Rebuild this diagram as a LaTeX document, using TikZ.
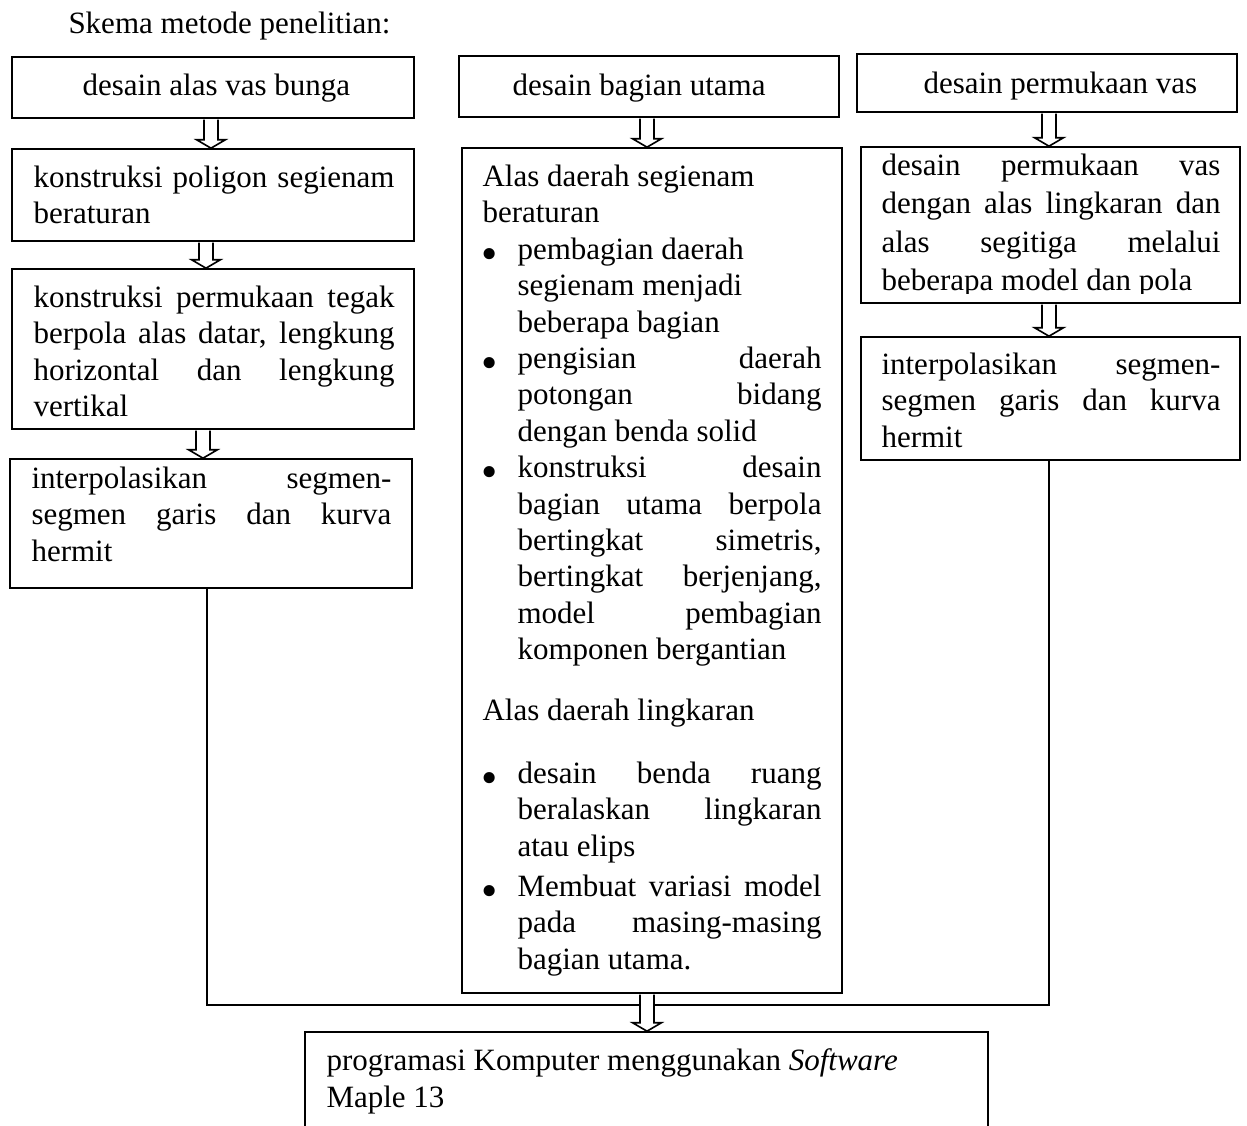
\documentclass[tikz,border=0pt]{standalone}
\usepackage{fontspec}
\setmainfont{Liberation Serif}
\usetikzlibrary{fit,calc}
\newcommand\J[2]{\makebox[#1][s]{#2}}
\newcommand\bul{\makebox[14pt][l]{\hspace{-0.6pt}\smash{\raisebox{-4pt}{\scalebox{1.5}{\textbullet}}}}}
\newcommand\ind{\makebox[14pt]{}}
% hollow block arrow from the bottom of node #1 to the top of node #2 at x = #3 (px)
\newcommand\harrow[3]{%
  \filldraw[arrst] let \p1=(#1.south), \p2=(#2.north) in
    ({#3*0.4pt-2.8pt},{\y1-0.3pt}) -- ({#3*0.4pt-2.8pt},{\y2+3.4pt})
    -- ({#3*0.4pt-5.8pt},{\y2+3.4pt}) -- ({#3*0.4pt},\y2)
    -- ({#3*0.4pt+5.8pt},{\y2+3.4pt}) -- ({#3*0.4pt+2.8pt},{\y2+3.4pt})
    -- ({#3*0.4pt+2.8pt},{\y1-0.3pt});}
\begin{document}
\begin{tikzpicture}[x=0.4pt,y=-0.4pt,
  every node/.style={font=\fontsize{12.4}{14.56}\selectfont},
  boxst/.style={draw, line width=0.65pt, inner sep=0pt},
  txtst/.style={anchor=north west, inner sep=0pt, align=left,
    execute at begin node={\spaceskip=0pt\xspaceskip=0pt}},
  lblst/.style={anchor=base west, inner sep=0pt},
  arrst/.style={draw=black, fill=white, line width=0.65pt, line join=miter},
  conn/.style={draw, line width=0.65pt}]
\path[fill=white] (0,0) rectangle (1247,1126);
\useasboundingbox (0,0) rectangle (1247,1126);

% title
\node[lblst] (title) at (68,34) {Skema metode penelitian:};

% boxes
\node[boxst, fit={(12,57) (414,118)}] (a1) {};
\node[boxst, fit={(12,149) (414,241)}] (a2) {};
\node[boxst, fit={(12,269) (414,429)}] (a3) {};
\node[boxst, fit={(10,459) (412,588)}] (a4) {};
\node[boxst, fit={(459,56) (839,117)}] (m1) {};
\node[boxst, fit={(462,148) (842,993)}] (m2) {};
\node[boxst, fit={(857,54) (1237,112)}] (r1) {};
\node[boxst, fit={(861,147) (1240,303)}] (r2) {};
\node[boxst, fit={(861,337) (1240,460)}] (r3) {};
\node[boxst, fit={(305,1032) (988,1140)}] (bt) {};

% texts
\node[lblst] (a1t) at (82,95) {desain alas vas bunga};
\node[lblst] (m1t) at (512,95) {desain bagian utama};
\node[lblst] (r1t) at (923,93) {desain permukaan vas};

\node[txtst, text width=145pt] (a2t) at (33,161.5)
  {\strut\J{144.4pt}{konstruksi poligon segienam}\\beraturan};
\node[txtst, text width=145pt] (a3t) at (33,281.5)
  {\strut\J{144.4pt}{konstruksi permukaan tegak}\\
   \J{144.4pt}{berpola alas datar, lengkung}\\
   \J{144.4pt}{horizontal dan lengkung}\\vertikal};
\node[txtst, text width=145pt] (a4t) at (31,462.5)
  {\strut\J{144pt}{interpolasikan segmen-}\\
   \J{144pt}{segmen garis dan kurva}\\hermit};

\node[txtst, text width=136.5pt] (m2t) at (482,160.5)
  {\strut Alas daerah segienam\\
   beraturan\\
   \bul pembagian daerah\\
   \ind segienam menjadi\\
   \ind beberapa bagian\\
   \bul\J{121.6pt}{pengisian daerah}\\
   \ind\J{121.6pt}{potongan bidang}\\
   \ind dengan benda solid\\
   \bul\J{121.6pt}{konstruksi desain}\\
   \ind\J{121.6pt}{bagian utama berpola}\\
   \ind\J{121.6pt}{bertingkat simetris,}\\
   \ind\J{121.6pt}{bertingkat berjenjang,}\\
   \ind\J{121.6pt}{model pembagian}\\
   \ind komponen bergantian\\[9.8pt]
   Alas daerah lingkaran\\[10.6pt]
   \bul\J{121.6pt}{desain benda ruang}\\
   \ind\J{121.6pt}{beralaskan lingkaran}\\
   \ind atau elips\\[1.5pt]
   \bul\J{121.6pt}{Membuat variasi model}\\
   \ind\J{121.6pt}{pada masing-masing}\\
   \ind bagian utama.};

\begin{scope}
  \clip (850,140) rectangle (1245,293.5);
  \node[txtst, text width=136.5pt] (r2t) at (881,149.5)
    {\strut\J{135.6pt}{desain permukaan vas}\\[0.8pt]
     \J{135.6pt}{dengan alas lingkaran dan}\\[0.8pt]
     \J{135.6pt}{alas segitiga melalui}\\[0.8pt]
     beberapa model dan pola};
\end{scope}
\node[txtst, text width=136.5pt] (r3t) at (881,348.5)
  {\strut\J{135.6pt}{interpolasikan segmen-}\\
   \J{135.6pt}{segmen garis dan kurva}\\hermit};

\node[txtst, text width=300pt] (btt) at (326,1044.5)
  {\strut programasi Komputer menggunakan \textit{Software}\\[0.3pt]Maple 13};

% connectors
\coordinate (jl) at (207,1005);
\coordinate (jr) at (1049,1005);
\draw[conn] (a4.south -| jl) -- (jl) -- (jr) -- (r3.south -| jr);

% hollow arrows
\harrow{a1}{a2}{211}
\harrow{a2}{a3}{206}
\harrow{a3}{a4}{203}
\harrow{m1}{m2}{647}
\harrow{m2}{bt}{647}
\harrow{r1}{r2}{1049}
\harrow{r2}{r3}{1049}
\end{tikzpicture}
\end{document}
